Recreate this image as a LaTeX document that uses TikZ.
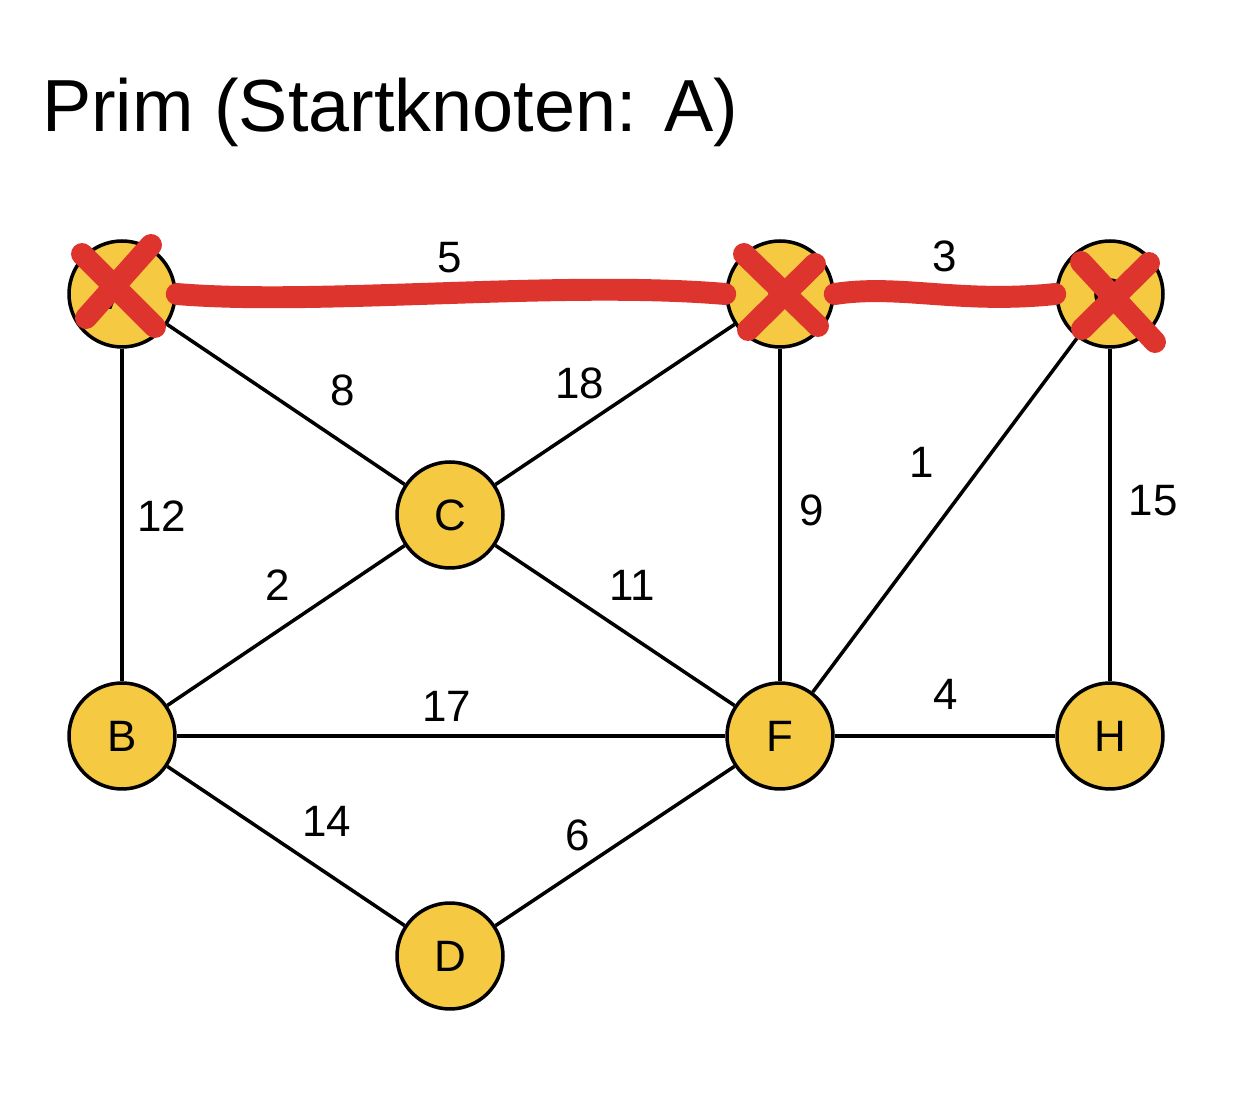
\documentclass[tikz,border=0pt]{standalone}
\usepackage{fontspec}
\setmainfont{Liberation Sans}
\definecolor{knotengelb}{RGB}{245,201,66}
\definecolor{markrot}{RGB}{222,52,46}
\newcommand{\gFont}{\fontsize{25}{25}\selectfont}

\begin{document}
\begin{tikzpicture}[x=0.02cm,y=-0.02cm,
  knoten/.style={circle, draw=black, line width=2pt, fill=knotengelb, minimum size=2.12cm, inner sep=0pt, font=\gFont},
  kante/.style={line width=2pt},
  gewicht/.style={font=\gFont, inner sep=0pt},
  markiert/.style={draw=markrot, line width=12.5pt, line cap=round, line join=round}]
\useasboundingbox (0,0) rectangle (1252,1104);
\fill[white] (0,0) rectangle (1252,1104);
\node[anchor=west, font=\fontsize{42}{42}\selectfont] (titel) at (36,112) {Prim (Startknoten: A)};
\node[knoten] (A) at (122,294) {A};
\node[knoten] (E) at (780,294) {E};
\node[knoten] (G) at (1110,294) {G};
\node[knoten] (C) at (450,515) {C};
\node[knoten] (B) at (122,736) {B};
\node[knoten] (F) at (780,736) {F};
\node[knoten] (H) at (1110,736) {H};
\node[knoten] (D) at (450,956) {D};
\draw[kante] (A) -- (B);
\draw[kante] (A) -- (C);
\draw[kante] (C) -- (E);
\draw[kante] (E) -- (F);
\draw[kante] (F) -- (G);
\draw[kante] (G) -- (H);
\draw[kante] (B) -- (C);
\draw[kante] (C) -- (F);
\draw[kante] (B) -- (F);
\draw[kante] (F) -- (H);
\draw[kante] (B) -- (D);
\draw[kante] (D) -- (F);
\node[gewicht] (w5) at (450,258) {5};
\node[gewicht] (w3) at (945,256) {3};
\node[gewicht] (w8) at (343,390) {8};
\node[gewicht] (w18) at (580,383) {18};
\node[gewicht] (w12) at (162,516) {12};
\node[gewicht] (w9) at (812,510) {9};
\node[gewicht] (w1) at (922,462) {1};
\node[gewicht] (w15) at (1153,501) {15};
\node[gewicht] (w2) at (278,585) {2};
\node[gewicht] (w11) at (632,585) {11};
\node[gewicht] (w17) at (447,706) {17};
\node[gewicht] (w4) at (946,694) {4};
\node[gewicht] (w14) at (327,821) {14};
\node[gewicht] (w6) at (578,835) {6};
\draw[markiert] (A.east) .. controls (320,306) and (560,280) .. (E.west);
\draw[markiert] (E.east) .. controls (900,284) and (960,304) .. (G.west);
\draw[markiert] (82,254) -- (155,327);
\draw[markiert] (151,245) -- (86,318);
\draw[markiert] (744,254) -- (818,326);
\draw[markiert] (815,264) -- (748,330);
\draw[markiert] (1081,262) -- (1155,342);
\draw[markiert] (1149,263) -- (1082,329);
\end{tikzpicture}
\end{document}
